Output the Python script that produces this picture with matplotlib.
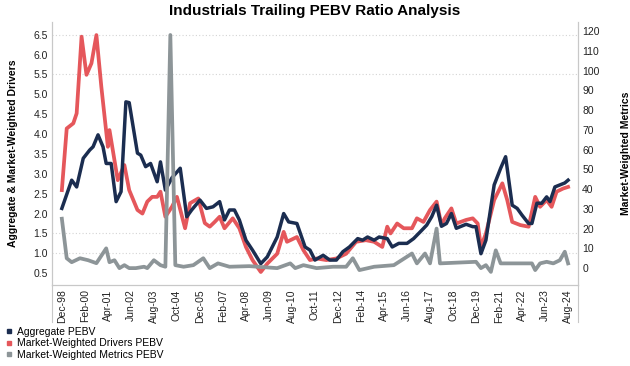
import matplotlib
matplotlib.use("Agg")
import matplotlib.pyplot as plt
from matplotlib.lines import Line2D
import pandas as pd

plt.rcParams["font.family"] = ["Liberation Sans", "DejaVu Sans"]

# Aggregate PEBV (left axis)
agg_dates = [
    "1998-12", "1999-06", "1999-09", "2000-01", "2000-05", "2000-07", "2000-10",
    "2001-01", "2001-03", "2001-06", "2001-09", "2001-12", "2002-03", "2002-05",
    "2002-10", "2002-12", "2003-03", "2003-06", "2003-10", "2003-12", "2004-03",
    "2004-07", "2004-12", "2005-04", "2005-07", "2005-12", "2006-04", "2006-08",
    "2006-12", "2007-03", "2007-06", "2007-09", "2007-12", "2008-04", "2008-08",
    "2009-01", "2009-05", "2009-11", "2010-03", "2010-06", "2010-11", "2011-04",
    "2011-07", "2011-10", "2012-03", "2012-07", "2012-11", "2013-03", "2013-07",
    "2013-12", "2014-03", "2014-06", "2014-10", "2015-01", "2015-06", "2015-09",
    "2016-01", "2016-06", "2016-10", "2017-02", "2017-06", "2017-09", "2017-12",
    "2018-03", "2018-06", "2018-09", "2018-12", "2019-06", "2019-10", "2019-12",
    "2020-03", "2020-06", "2020-11", "2021-03", "2021-06", "2021-10", "2022-01",
    "2022-04", "2022-08", "2022-10", "2023-01", "2023-04", "2023-07", "2023-09",
    "2023-12", "2024-03", "2024-06", "2024-08",
]
agg_values = [
    2.13, 2.84, 2.67, 3.39, 3.60, 3.68, 3.98,
    3.68, 3.26, 3.26, 2.30, 2.55, 4.81, 4.79,
    3.52, 3.47, 3.18, 3.26, 2.80, 3.30, 2.59,
    2.90, 3.14, 1.92, 2.09, 2.34, 2.13, 2.17,
    2.30, 1.84, 2.09, 2.09, 1.84, 1.33, 1.08,
    0.74, 0.91, 1.41, 2.00, 1.79, 1.75, 1.16,
    1.08, 0.83, 0.95, 0.83, 0.83, 1.04, 1.16,
    1.37, 1.33, 1.41, 1.33, 1.41, 1.37, 1.16,
    1.25, 1.25, 1.37, 1.54, 1.71, 1.92, 2.21,
    1.68, 1.75, 2.00, 1.63, 1.73, 1.67, 1.67,
    0.99, 1.33, 2.72, 3.14, 3.43, 2.21, 2.13,
    1.96, 1.75, 1.75, 2.26, 2.26, 2.42, 2.30,
    2.67, 2.72, 2.77, 2.84,
]

# Market-Weighted Drivers PEBV (left axis)
drv_dates = [
    "1998-12", "1999-03", "1999-07", "1999-09", "1999-12", "2000-03", "2000-06",
    "2000-09", "2000-12", "2001-04", "2001-05", "2001-07", "2001-10", "2002-02",
    "2002-05", "2002-10", "2003-01", "2003-04", "2003-07", "2003-10", "2003-12",
    "2004-03", "2004-07", "2004-10", "2005-03", "2005-06", "2005-11", "2006-03",
    "2006-06", "2006-09", "2006-12", "2007-03", "2007-08", "2007-12", "2008-04",
    "2008-08", "2009-01", "2009-05", "2009-11", "2010-03", "2010-05", "2010-11",
    "2011-03", "2011-07", "2011-11", "2012-05", "2012-11", "2013-05", "2013-11",
    "2014-05", "2014-10", "2015-03", "2015-06", "2015-08", "2015-12", "2016-04",
    "2016-09", "2016-12", "2017-04", "2017-08", "2017-12", "2018-03", "2018-05",
    "2018-09", "2018-12", "2019-06", "2019-10", "2020-01", "2020-03", "2020-06",
    "2020-11", "2021-04", "2021-07", "2021-10", "2022-03", "2022-08", "2022-12",
    "2023-03", "2023-07", "2023-10", "2024-01", "2024-05", "2024-08",
]
drv_values = [
    2.59, 4.14, 4.27, 4.52, 6.45, 5.49, 5.78,
    6.49, 5.19, 3.68, 4.10, 3.60, 2.84, 3.22,
    2.59, 2.09, 2.00, 2.30, 2.42, 2.42, 2.55,
    1.92, 2.17, 2.42, 1.63, 2.26, 2.38, 1.76,
    1.67, 1.79, 1.92, 1.63, 1.88, 1.63, 1.16,
    0.83, 0.53, 0.74, 0.99, 1.54, 1.29, 1.41,
    1.08, 0.83, 0.87, 0.83, 0.87, 0.99, 1.29,
    1.33, 1.29, 1.16, 1.67, 1.50, 1.75, 1.63,
    1.63, 1.88, 1.79, 2.09, 2.30, 1.71, 1.88,
    2.13, 1.75, 1.84, 1.88, 1.75, 1.16, 1.50,
    2.34, 2.76, 2.34, 1.79, 1.71, 1.67, 2.42,
    2.17, 2.34, 2.17, 2.55, 2.63, 2.67,
]

# Market-Weighted Metrics PEBV (right axis)
met_dates = [
    "1998-12", "1999-03", "1999-06", "1999-11", "2000-04", "2000-09", "2001-03",
    "2001-05", "2001-08", "2001-11", "2002-02", "2002-05", "2002-09", "2003-02",
    "2003-04", "2003-08", "2003-12", "2004-03", "2004-06", "2004-09", "2005-02",
    "2005-08", "2006-02", "2006-06", "2006-11", "2007-06", "2008-06", "2009-11",
    "2010-07", "2010-10", "2011-03", "2011-11", "2012-09", "2013-05", "2013-09",
    "2014-01", "2014-10", "2015-10", "2016-09", "2016-12", "2017-05", "2017-08",
    "2017-12", "2018-02", "2019-12", "2020-03", "2020-06", "2020-09", "2020-12",
    "2021-03", "2022-04", "2022-10", "2022-12", "2023-03", "2023-07", "2023-11",
    "2024-03", "2024-06", "2024-08",
]
met_values = [
    25.0, 5.0, 3.0, 5.0, 4.0, 2.5, 10.0,
    3.0, 4.0, 0.0, 1.5, 0.0, 0.0, 0.7,
    0.0, 4.0, 1.5, 0.7, 118.0, 1.5, 0.7,
    1.5, 5.0, 0.0, 2.4, 0.7, 1.0, 0.0,
    2.4, 0.0, 1.5, 0.0, 0.7, 0.7, 5.0,
    -1.0, 0.7, 1.5, 7.4, 2.4, 7.4, 2.4,
    20.0, 2.4, 3.2, 0.0, 1.5, -1.9, 9.0,
    2.4, 2.4, 2.4, -1.0, 2.4, 3.2, 2.4,
    4.0, 8.3, 2.4,
]

NAVY = "#1b2d50"
RED = "#e5575b"
GRAY = "#8d9598"
SPINE = "#c8c8c8"

fig = plt.figure(figsize=(6.3, 3.66), dpi=100)
ax = fig.add_axes([0.0825, 0.221, 0.835, 0.719])
ax2 = ax.twinx()

ax.plot(pd.to_datetime(drv_dates, format="%Y-%m"), drv_values, color=RED, lw=2.7,
        solid_joinstyle="round", zorder=3)
ax.plot(pd.to_datetime(agg_dates, format="%Y-%m"), agg_values, color=NAVY, lw=2.5,
        solid_joinstyle="round", zorder=4)
ax2.plot(pd.to_datetime(met_dates, format="%Y-%m"), met_values, color=GRAY, lw=2.7,
         solid_joinstyle="round")

# partial dotted gridlines as seen in the reference
for g in [6.5, 5.5, 1.5, 1.0]:
    ax.axhline(g, color="#d4d4d4", lw=0.8, ls=(0, (1, 2)), zorder=1)

ax.set_xlim(pd.Timestamp("1998-06-01"), pd.Timestamp("2025-02-01"))
ax.set_ylim(0.2, 6.82)
ax2.set_ylim(-8.6, 124.6)

ticks = pd.date_range("1998-12-01", periods=23, freq="14MS")
ax.set_xticks(ticks)
ax.set_xticklabels([t.strftime("%b-%y") for t in ticks], rotation=90, fontsize=7.5)
ax.set_yticks([0.5 + 0.5 * i for i in range(13)])
ax.set_yticklabels([f"{0.5 + 0.5 * i:.1f}" for i in range(13)], fontsize=7.5)
ax2.set_yticks(range(0, 121, 10))
ax2.set_yticklabels([str(v) for v in range(0, 121, 10)], fontsize=7.5)

for a in (ax, ax2):
    a.tick_params(length=0, pad=3, colors="#222222")
    a.spines["top"].set_visible(False)
    for s in ("left", "right", "bottom"):
        a.spines[s].set_color(SPINE)
        a.spines[s].set_linewidth(0.8)

# label area borders below the axis
for xf in (0, 1):
    ax.add_line(Line2D([xf, xf], [0, -0.14], transform=ax.transAxes, color=SPINE,
                       lw=0.8, clip_on=False))

ax.set_ylabel("Aggregate & Market-Weighted Drivers", fontsize=7.5, fontweight="bold",
              labelpad=11)
ax2.set_ylabel("Market-Weighted Metrics", fontsize=7.5, fontweight="bold", labelpad=15)
fig.suptitle("Industrials Trailing PEBV Ratio Analysis", fontsize=11,
             fontweight="bold", x=0.5, y=0.99)

handles = [
    Line2D([], [], color=NAVY, marker="s", ls="none", markersize=3.5),
    Line2D([], [], color=RED, marker="s", ls="none", markersize=3.5),
    Line2D([], [], color=GRAY, marker="s", ls="none", markersize=3.5),
]
fig.legend(handles, ["Aggregate PEBV", "Market-Weighted Drivers PEBV",
                     "Market-Weighted Metrics PEBV"],
           loc="lower left", bbox_to_anchor=(0.0, 0.0), frameon=False,
           fontsize=7.5, handlelength=0.6, handletextpad=0.4, labelspacing=0.15,
           borderaxespad=0.2)

fig.savefig("out.png", dpi=100)
